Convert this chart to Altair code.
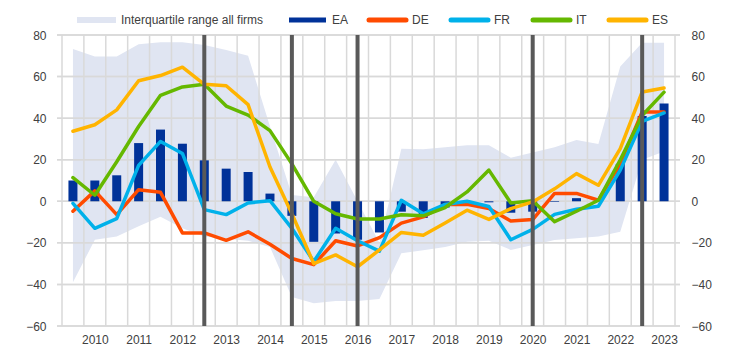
import altair as alt
import pandas as pd

# ---------------- data ----------------
periods = ["2009H2", "2010H1", "2010H2", "2011H1", "2011H2", "2012H1", "2012H2",
           "2013H1", "2013H2", "2014H1", "2014H2", "2015H1", "2015H2", "2016H1",
           "2016H2", "2017H1", "2017H2", "2018H1", "2018H2", "2019H1", "2019H2",
           "2020H1", "2020H2", "2021H1", "2021H2", "2022H1", "2022H2", "2023H1"]

ea = [10, 10, 12.5, 28, 34.5, 27.7, 19.7, 15.7, 14.1, 3.7, -7, -19.5, -15.5, -18.5,
      -15, -5, -8, -3, -1, -0.5, -5.5, -5, -0.3, 1.5, 0.3, 18, 41, 47]
de = [-4.8, 5, -6.4, 5.6, 4.3, -15.2, -15.2, -18.8, -14.7, -20.7, -27.5, -30.5, -19, -21.5,
      -17.5, -10.5, -7.5, -1.5, -1.5, -3.5, -9.5, -8.8, 3.8, 3.8, 0.5, 18, 43, 43]
fr = [-1, -13, -8.3, 17.3, 28.8, 23, -4, -6.4, -0.8, 0.3, -13, -29, -13, -19,
      -24, 0.5, -6, -1.5, 0, -2.5, -18.5, -13.5, -6.3, -3.8, -2.4, 15, 38.5, 42.5]
it = [11.4, 2.9, 19, 36, 51, 55, 56.3, 45.8, 41.5, 34, 18, 0, -6, -8.5,
      -8.5, -6.5, -7, -3, 4.5, 15, -0.8, 0.3, -9.8, -4.8, 0.5, 20, 41.3, 52.5]
es = [33.7, 36.8, 44, 58, 60.5, 64.5, 56.3, 55.6, 46.5, 16.5, -6, -30, -25.8, -31.5,
      -23.4, -15, -16.3, -10.4, -4.3, -8.7, -3.5, -0.3, 6, 13.3, 7.7, 25.3, 52.6, 54.5]
iqr_high = [73.3, 69.6, 69.6, 75.5, 76.5, 76.5, 75.2, 72.8, 70, 36, 3, 2, 20, 0,
            -20, 25.3, 25, 26, 27, 27, 21, 23.5, 26, 29.5, 27.6, 64.8, 76.3, 76.3]
iqr_low = [-39, -18.5, -17, -12, -7.4, -13, -17, -18, -19, -22, -46, -49, -48, -48,
           -47, -25, -23.5, -22, -19.5, -19, -23.4, -21, -18.6, -17.8, -17, -14.6, 20, 24]

event_periods = ["2012H2", "2014H2", "2016H1", "2020H1", "2022H2"]
y_ticks = [-60, -40, -20, 0, 20, 40, 60, 80]

series_names = ["DE", "FR", "IT", "ES"]
series_colors = {"EA": "#003299", "DE": "#ff4b00", "FR": "#00b1ea", "IT": "#65b800", "ES": "#ffb400"}
band_color = "#e0e5f2"
grid_color = "#d9d9d9"
font = "Liberation Sans"
text_color = "#404040"

# ---------------- tables ----------------
n = len(periods)
df = pd.DataFrame({"i": list(range(n)), "period": periods, "EA": ea, "DE": de,
                   "FR": fr, "IT": it, "ES": es, "hi": iqr_high, "lo": iqr_low})
events = pd.DataFrame({"i": [periods.index(p) for p in event_periods]})
hgrid = pd.DataFrame({"v": y_ticks})
vgrid = pd.DataFrame({"b": [k - 0.5 for k in range(n + 1)]})
tick_idx = [k for k, p in enumerate(periods) if p.endswith("H1")]
label_arr = "[" + ",".join("'%s'" % (p[:4] if p.endswith("H1") else "") for p in periods) + "]"

xs = alt.Scale(domain=[-0.5, n - 0.5], nice=False, zero=False)
ys = alt.Scale(domain=[-60, 80], nice=False, zero=False)

base = alt.Chart(df)

band = base.mark_area(color=band_color, interpolate="linear").encode(
    x=alt.X("i:Q", scale=xs, axis=None),
    y=alt.Y("hi:Q", scale=ys, axis=None),
    y2="lo:Q",
)

vg = alt.Chart(vgrid).mark_rule(color=grid_color, strokeWidth=1.5).encode(
    x=alt.X("b:Q", scale=xs, title=None,
            axis=alt.Axis(values=tick_idx, labelExpr=label_arr + "[datum.value]",
                          grid=False, domain=False, ticks=False, labelPadding=8,
                          labelFontSize=12, labelColor=text_color, labelFont=font))
)

hg_left = alt.Chart(hgrid).mark_rule(color=grid_color, strokeWidth=1.5).encode(
    y=alt.Y("v:Q", scale=ys, title=None,
            axis=alt.Axis(orient="left", values=y_ticks, grid=False, domain=False,
                          ticks=False, labelPadding=11, labelFontSize=12,
                          labelColor=text_color, labelFont=font))
)
hg_right = alt.Chart(hgrid).mark_rule(color=grid_color, strokeWidth=1.5).encode(
    y=alt.Y("v:Q", scale=ys, title=None,
            axis=alt.Axis(orient="right", values=y_ticks, grid=False, domain=False,
                          ticks=False, labelPadding=11, labelFontSize=12,
                          labelColor=text_color, labelFont=font))
)

bars = base.mark_bar(size=9, color=series_colors["EA"]).encode(
    x=alt.X("i:Q", scale=xs, axis=None),
    y=alt.Y("EA:Q", scale=ys, axis=None),
)

lines = []
for s in series_names:
    lines.append(base.mark_line(color=series_colors[s], strokeWidth=3.5,
                                strokeJoin="round", strokeCap="round").encode(
        x=alt.X("i:Q", scale=xs, axis=None),
        y=alt.Y(f"{s}:Q", scale=ys, axis=None),
    ))

ev = alt.Chart(events).mark_rule(color="#595959", strokeWidth=4).encode(
    x=alt.X("i:Q", scale=xs, axis=None)
)

# ---------------- legend (manual, above plot) ----------------
one = pd.DataFrame({"a": [0]})
ly = -15
legend_layers = [
    alt.Chart(one).mark_rect(color=band_color).encode(
        x=alt.value(20), x2=alt.value(59), y=alt.value(ly - 3), y2=alt.value(ly + 3)),
    alt.Chart(one).mark_text(align="left", baseline="middle", font=font, fontSize=12,
                             color=text_color).encode(
        x=alt.value(64), y=alt.value(ly), text=alt.value("Interquartile range all firms")),
]
legend_pos = {"EA": 231, "DE": 311, "FR": 393, "IT": 475, "ES": 551}
for name in ["EA"] + series_names:
    x0 = legend_pos[name]
    legend_layers.append(
        alt.Chart(one).mark_rule(color=series_colors[name], strokeWidth=5,
                                 strokeCap="butt" if name == "EA" else "round").encode(
            x=alt.value(x0 + 1), x2=alt.value(x0 + 38), y=alt.value(ly)))
    legend_layers.append(
        alt.Chart(one).mark_text(align="left", baseline="middle", font=font, fontSize=12,
                                 color=text_color).encode(
            x=alt.value(x0 + 44), y=alt.value(ly), text=alt.value(name)))

chart = alt.layer(band, vg, hg_left, hg_right, bars, *lines, ev, *legend_layers).resolve_scale(
    x="shared", y="shared").resolve_axis(x="independent", y="independent").properties(
    width=623, height=291,
    autosize=alt.AutoSizeParams(type="none"),
    padding={"left": 57, "top": 35, "right": 64, "bottom": 26},
).configure_view(stroke=None)

chart.save("out.html", embed_options={"renderer": "svg", "actions": False})
